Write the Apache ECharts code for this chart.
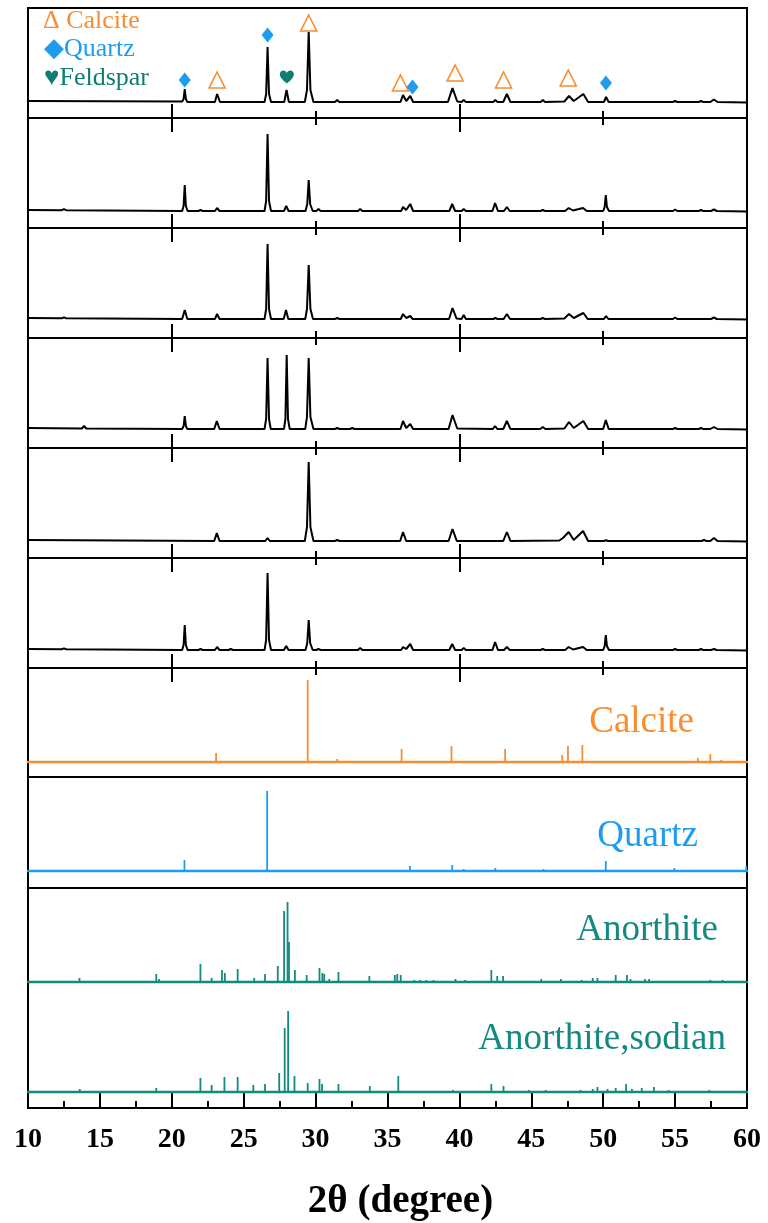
<!DOCTYPE html>
<html>
<head>
<meta charset="utf-8">
<script src="https://cdn.jsdelivr.net/npm/echarts@6/dist/echarts.min.js"></script>
<style>
html,body{margin:0;padding:0;background:#fff;}
#chart{width:768px;height:1223px;}
</style>
</head>
<body>
<div id="chart"></div>
<script>
// ---------------- DATA (2θ in degrees, intensity in a.u.) ----------------
const xMin = 10, xMax = 60;
const xrdMajorTicks = [20, 40];
const xrdMinorTicks = [30, 50];

const xrd1 = [[10,1],[20.72,0.5],[20.82,3],[20.9,13],[20.98,3],[21.08,0],
 [23.0,0],[23.15,8],[23.35,0],
 [26.45,0],[26.56,8],[26.66,55],[26.76,8],[26.9,0],
 [27.82,0],[27.98,12],[28.14,0],
 [29.25,0],[29.4,12],[29.52,70],[29.64,12],[29.85,0],
 [31.35,0],[31.5,2],[31.65,0],
 [35.9,0],[36.08,7],[36.3,1],[36.58,6],[36.78,0],
 [39.2,0],[39.52,14],[39.85,0.5],
 [40.15,0],[40.3,2],[40.45,0],
 [42.35,0],[42.5,2],[42.65,0],
 [43.05,0],[43.3,8],[43.55,0],
 [45.65,0],[45.8,2],[45.95,0],
 [47.3,0.5],[47.62,6],[47.95,1],[48.62,8],[48.95,0],
 [50.05,0],[50.2,5],[50.38,0],
 [54.85,0],[55.0,1],[55.15,0],
 [56.65,0],[56.8,1],[56.95,0],
 [57.45,0],[57.7,2.5],[57.95,0],
 [60,-0.5]];

const xrd2 = [[10,1],[12.35,0.8],[12.5,1.8],[12.65,0.8],
 [20.72,0],[20.82,5],[20.9,26],[20.98,5],[21.1,0],
 [21.85,0],[22.0,1],[22.15,0],
 [23.0,0],[23.15,3],[23.32,0],
 [26.45,0],[26.56,10],[26.66,77],[26.76,10],[26.9,0],
 [27.8,0],[27.96,5],[28.12,0],
 [29.3,0],[29.42,7],[29.52,31],[29.62,7],[29.8,0],
 [30.05,0],[30.2,2],[30.35,0],
 [32.95,0],[33.1,2],[33.25,0],
 [35.95,0],[36.08,4],[36.3,1],[36.58,7],[36.78,0],
 [39.3,0],[39.5,7],[39.7,0],
 [40.15,0],[40.3,2],[40.45,0],
 [42.3,0],[42.48,8],[42.68,0],
 [43.1,0],[43.3,4],[43.5,0],
 [45.65,0],[45.8,1],[45.95,0],
 [47.35,0],[47.6,3],[47.9,0.5],[48.6,3],[48.85,0],
 [50.0,0],[50.1,4],[50.18,16],[50.26,4],[50.4,0],
 [54.85,0],[55.0,1.5],[55.15,0],
 [56.65,0],[56.8,1],[56.95,0],
 [57.5,0],[57.7,1.5],[57.9,0],
 [60,-0.5]];

const xrd3 = [[10,1],[12.35,0.8],[12.5,1.6],[12.65,0.8],
 [20.72,0],[20.9,9],[21.08,0],
 [23.0,0],[23.15,5],[23.32,0],
 [26.45,0],[26.56,10],[26.66,75],[26.76,10],[26.9,0],
 [27.78,0],[27.94,9],[28.1,0],
 [29.28,0],[29.4,10],[29.52,54],[29.64,10],[29.82,0],
 [31.35,0],[31.5,1],[31.65,0],
 [35.92,0],[36.08,5],[36.3,1],[36.58,3],[36.75,0],
 [39.28,0],[39.52,11],[39.8,0.5],
 [40.15,0],[40.3,4],[40.45,0],
 [42.35,0],[42.5,1],[42.65,0],
 [43.08,0],[43.3,5],[43.52,0],
 [45.65,0],[45.8,1],[45.95,0],
 [47.3,0.5],[47.62,5],[47.95,1],[48.62,6],[48.92,0],
 [50.05,0],[50.2,3],[50.36,0],
 [54.85,0],[55.0,1.5],[55.15,0],
 [57.5,0],[57.7,1.5],[57.9,0],
 [60,-0.5]];

const xrd4 = [[10,1],[13.75,0.5],[13.9,3],[14.05,0.5],
 [20.72,0],[20.82,3],[20.9,13],[20.98,3],[21.08,0],
 [22.95,0],[23.13,8],[23.32,0],
 [26.45,0],[26.56,10],[26.66,71],[26.76,10],[26.88,0],
 [27.8,0],[27.9,10],[27.99,74],[28.08,10],[28.2,0],
 [29.28,0],[29.4,12],[29.52,71],[29.64,12],[29.85,0],
 [31.35,0],[31.5,1],[31.65,0],
 [32.4,0],[32.55,1],[32.7,0],
 [35.9,0],[36.08,8],[36.3,1],[36.58,5],[36.78,0],
 [39.25,0],[39.52,14],[39.85,0.5],
 [42.32,0],[42.48,3],[42.64,0],
 [43.05,0],[43.3,8],[43.55,0],
 [45.62,0],[45.8,2],[45.98,0],
 [47.3,0.5],[47.62,7],[47.95,1],[48.62,8],[48.95,0],
 [50.0,0],[50.18,9],[50.38,0],
 [54.85,0],[55.0,1],[55.15,0],
 [56.65,0],[56.8,1],[56.95,0],
 [57.45,0],[57.7,2],[57.95,0],
 [60,-0.5]];

const xrd5 = [[10,1],[22.95,0],[23.13,8],[23.32,0],
 [26.5,0],[26.66,3],[26.82,0],
 [29.25,0],[29.4,14],[29.52,79],[29.64,14],[29.85,0],
 [31.35,0],[31.5,1],[31.65,0],
 [35.88,0],[36.08,9],[36.3,0],
 [39.25,0],[39.52,12],[39.82,0],
 [43.05,0],[43.3,9],[43.55,0],
 [46.95,0.5],[47.2,3],[47.6,9],[47.95,1],[48.6,10],[48.95,0],
 [50.05,0],[50.2,0.7],[50.35,0],
 [56.85,0],[57.0,1],[57.2,0],
 [57.45,0],[57.7,3],[57.95,0],
 [60,-0.5]];

const xrd6 = [[10,1],[12.35,0.8],[12.5,1.6],[12.65,0.8],
 [20.72,0],[20.82,5],[20.9,25],[20.98,5],[21.1,0],
 [21.85,0],[22.0,1],[22.15,0],
 [23.0,0],[23.15,3],[23.32,0],
 [23.95,0],[24.1,1],[24.25,0],
 [26.45,0],[26.56,10],[26.66,77],[26.76,10],[26.9,0],
 [27.8,0],[27.96,4],[28.12,0],
 [29.3,0],[29.42,7],[29.52,30],[29.62,7],[29.8,0],
 [30.05,0],[30.2,1],[30.35,0],
 [32.95,0],[33.1,2],[33.25,0],
 [35.95,0],[36.08,3],[36.3,1],[36.58,6],[36.78,0],
 [39.3,0],[39.5,6],[39.7,0],
 [40.15,0],[40.3,2],[40.45,0],
 [42.3,0],[42.48,8],[42.68,0],
 [43.1,0],[43.3,3],[43.5,0],
 [45.65,0],[45.8,1],[45.95,0],
 [47.35,0],[47.6,3],[47.9,0.5],[48.6,3],[48.85,0],
 [50.0,0],[50.1,4],[50.18,15],[50.26,4],[50.4,0],
 [54.85,0],[55.0,1],[55.15,0],
 [56.65,0],[56.8,1],[56.95,0],
 [57.5,0],[57.7,1],[57.9,0],
 [60,-0.5]];

// phase markers above the peaks of the top pattern [2θ, height]
const calciteMarks = [[23.15,22],[29.52,79],[35.9,19],[39.7,29],[43.07,22],[47.57,24]];
const quartzMarks = [[20.9,22],[26.66,67],[36.74,15],[50.19,19]];
const feldsparMarks = [[28.0,25]];

// reference stick patterns [2θ, relative intensity]
const calciteRef = [[23.08,9],[29.45,82],[31.5,3],[35.98,13],[39.45,16],[43.18,13],[47.15,7],[47.55,16],[48.55,17],[56.58,4],[57.45,8],[58.2,2]];
const quartzRef = [[20.88,11],[26.63,80],[36.56,5],[39.5,6],[40.3,2],[42.5,3],[45.85,2],[50.18,10],[54.95,3],[55.35,1],[57.25,1],[59.95,5]];
const anorthiteRef = [[13.58,4],[18.92,8],[19.12,3],[21.99,18],[22.77,4],[23.49,12],[23.69,9],[24.58,13],[25.73,4],[26.48,8],[27.37,16],[27.81,71],[28.05,80],[28.15,40],[28.56,12],[29.38,7],[30.27,14],[30.47,9],[30.6,8],[30.95,3],[31.59,10],[33.74,6],[35.51,7],[35.68,8],[35.92,7],[36.87,2],[37.28,2],[37.7,2],[38.2,2],[39.73,3],[40.4,2],[42.22,12],[42.63,6],[43.04,6],[45.69,3],[47.06,3],[48.49,2],[49.27,4],[49.6,4],[50.87,7],[51.65,7],[51.9,3],[52.9,3],[53.19,3],[57.45,2],[58.3,2]];
const sodianRef = [[13.6,3],[18.92,4],[21.99,14],[22.77,7],[23.66,15],[24.58,15],[25.67,7],[26.48,8],[27.47,19],[27.85,64],[28.09,81],[28.53,16],[29.45,9],[30.27,13],[30.45,8],[31.59,8],[33.77,6],[35.75,16],[37.2,1],[39.56,2],[42.22,8],[43.07,6],[44.84,2],[46.0,2],[48.42,2],[49.27,3],[49.6,5],[50.3,3],[50.87,4],[51.59,8],[52.0,3],[52.68,4],[53.53,5],[54.55,2],[57.38,2]];

const phaseNames = ['Calcite','Quartz','Anorthite','Anorthite,sodian'];
const axisName = '2θ (degree)';

// ---------------- STYLE / LAYOUT ----------------
const ORANGE = '#F98C2E', BLUE = '#1E9CF0', TEAL = '#128A80', TEAL_D = '#0F7D74';
const SERIF = "'Liberation Serif','Times New Roman',serif";
const LEFT = 28, RIGHT = 21;
const panels = [
  {top: 8, h: 110, ymin: -16, ymax: 94},
  {top: 118, h: 110, ymin: -17, ymax: 93},
  {top: 228, h: 110, ymin: -19, ymax: 91},
  {top: 338, h: 110, ymin: -19, ymax: 91},
  {top: 448, h: 110, ymin: -17, ymax: 93},
  {top: 558, h: 110, ymin: -18, ymax: 92},
  {top: 668, h: 109, ymin: -15, ymax: 94},
  {top: 777, h: 111, ymin: -17, ymax: 94},
  {top: 888, h: 94, ymin: 0, ymax: 94},
  {top: 982, h: 126, ymin: -16, ymax: 110}
];
const xrdSets = [xrd1, xrd2, xrd3, xrd4, xrd5, xrd6];
const refSets = [calciteRef, quartzRef, anorthiteRef, sodianRef];
const refColors = [ORANGE, BLUE, TEAL, TEAL];

const grid = panels.map(p => ({
  left: LEFT, right: RIGHT, top: p.top, height: p.h,
  show: true, borderColor: '#000', borderWidth: 2, backgroundColor: 'transparent'
}));
const yAxis = panels.map((p, i) => ({
  gridIndex: i, type: 'value', min: p.ymin, max: p.ymax, show: false
}));

const xAxis = [];
const series = [];
function baseX(gi, extra) {
  return Object.assign({
    gridIndex: gi, type: 'value', min: xMin, max: xMax,
    axisLine: {show: false}, axisTick: {show: false}, axisLabel: {show: false},
    splitLine: {show: false}
  }, extra || {});
}
const mainX = [];
// XRD panels
for (let i = 0; i < 6; i++) {
  mainX[i] = xAxis.length;
  xAxis.push(baseX(i));
  [[xrdMajorTicks, 14], [xrdMinorTicks, 7]].forEach(([vals, len]) => {
    [true, false].forEach(inside => {
      xAxis.push(baseX(i, {
        position: 'bottom',
        axisLine: {show: false, onZero: false},
        axisTick: {show: true, customValues: vals, inside: inside, length: len,
                   lineStyle: {color: '#000', width: 2}}
      }));
    });
  });
  series.push({
    type: 'line', xAxisIndex: mainX[i], yAxisIndex: i, data: xrdSets[i],
    showSymbol: false, symbol: 'none', lineStyle: {color: '#000', width: 2},
    silent: true, z: 3
  });
}
// Reference stick panels
for (let k = 0; k < 4; k++) {
  const gi = 6 + k;
  mainX[gi] = xAxis.length;
  xAxis.push(baseX(gi, {
    z: 5,
    axisLine: {show: true, onZero: true, lineStyle: {color: refColors[k], width: 2.4}}
  }));
  series.push({
    type: 'bar', xAxisIndex: mainX[gi], yAxisIndex: gi, data: refSets[k],
    barWidth: 1.8, itemStyle: {color: refColors[k]}, silent: true
  });
}
// Bottom labelled axis
xAxis.push(baseX(9, {
  position: 'bottom', interval: 5,
  axisLine: {show: false, onZero: false},
  axisTick: {show: true, inside: true, length: 15, lineStyle: {color: '#000', width: 2}},
  minorTick: {show: true, splitNumber: 2, length: 7, lineStyle: {color: '#000', width: 2}},
  axisLabel: {show: true, margin: 18, color: '#000', fontSize: 28, fontWeight: 'bold', fontFamily: SERIF},
  name: axisName, nameLocation: 'middle', nameGap: 74,
  nameTextStyle: {color: '#000', fontSize: 39, fontWeight: 'bold', fontFamily: SERIF,
                  padding: [0, 0, 0, 26]}
}));

// Phase markers (top panel)
series.push({
  type: 'scatter', xAxisIndex: mainX[0], yAxisIndex: 0, data: calciteMarks,
  symbol: 'triangle', symbolSize: [16, 16],
  itemStyle: {color: 'rgba(255,255,255,0)', borderColor: ORANGE, borderWidth: 1.6, opacity: 1}, z: 6, silent: true
});
series.push({
  type: 'scatter', xAxisIndex: mainX[0], yAxisIndex: 0, data: quartzMarks,
  symbol: 'diamond', symbolSize: [12, 15], itemStyle: {color: BLUE, opacity: 1}, z: 6, silent: true
});
series.push({
  type: 'scatter', xAxisIndex: mainX[0], yAxisIndex: 0, data: feldsparMarks,
  symbol: 'path://M50,92 C22,68 0,48 0,26 C0,10 12,0 26,0 C38,0 46,8 50,18 C54,8 62,0 74,0 C88,0 100,10 100,26 C100,48 78,68 50,92 Z',
  symbolSize: [14, 13], itemStyle: {color: TEAL_D, opacity: 1}, z: 6, silent: true
});

// Text: legend and phase names
function txt(text, x, y, size, color, align) {
  return {type: 'text', x: x, y: y, z: 10, silent: true,
    style: {text: text, fontSize: size, fontFamily: SERIF, fill: color,
            align: align || 'left', verticalAlign: 'middle'}};
}
const graphic = [
  txt('Δ Calcite', 43, 21, 26, ORANGE),
  txt('◆Quartz', 44, 49, 26, BLUE),
  txt('♥Feldspar', 44, 78, 26, TEAL_D),
  txt(phaseNames[0], 694, 722, 37, ORANGE, 'right'),
  txt(phaseNames[1], 698, 836, 37, BLUE, 'right'),
  txt(phaseNames[2], 718, 930, 37, TEAL, 'right'),
  txt(phaseNames[3], 726, 1039, 37, TEAL, 'right')
];

const chart = echarts.init(document.getElementById('chart'), null, {renderer: 'canvas'});
chart.setOption({
  animation: false,
  backgroundColor: '#fff',
  grid: grid, xAxis: xAxis, yAxis: yAxis, series: series, graphic: graphic
});
</script>
</body>
</html>
